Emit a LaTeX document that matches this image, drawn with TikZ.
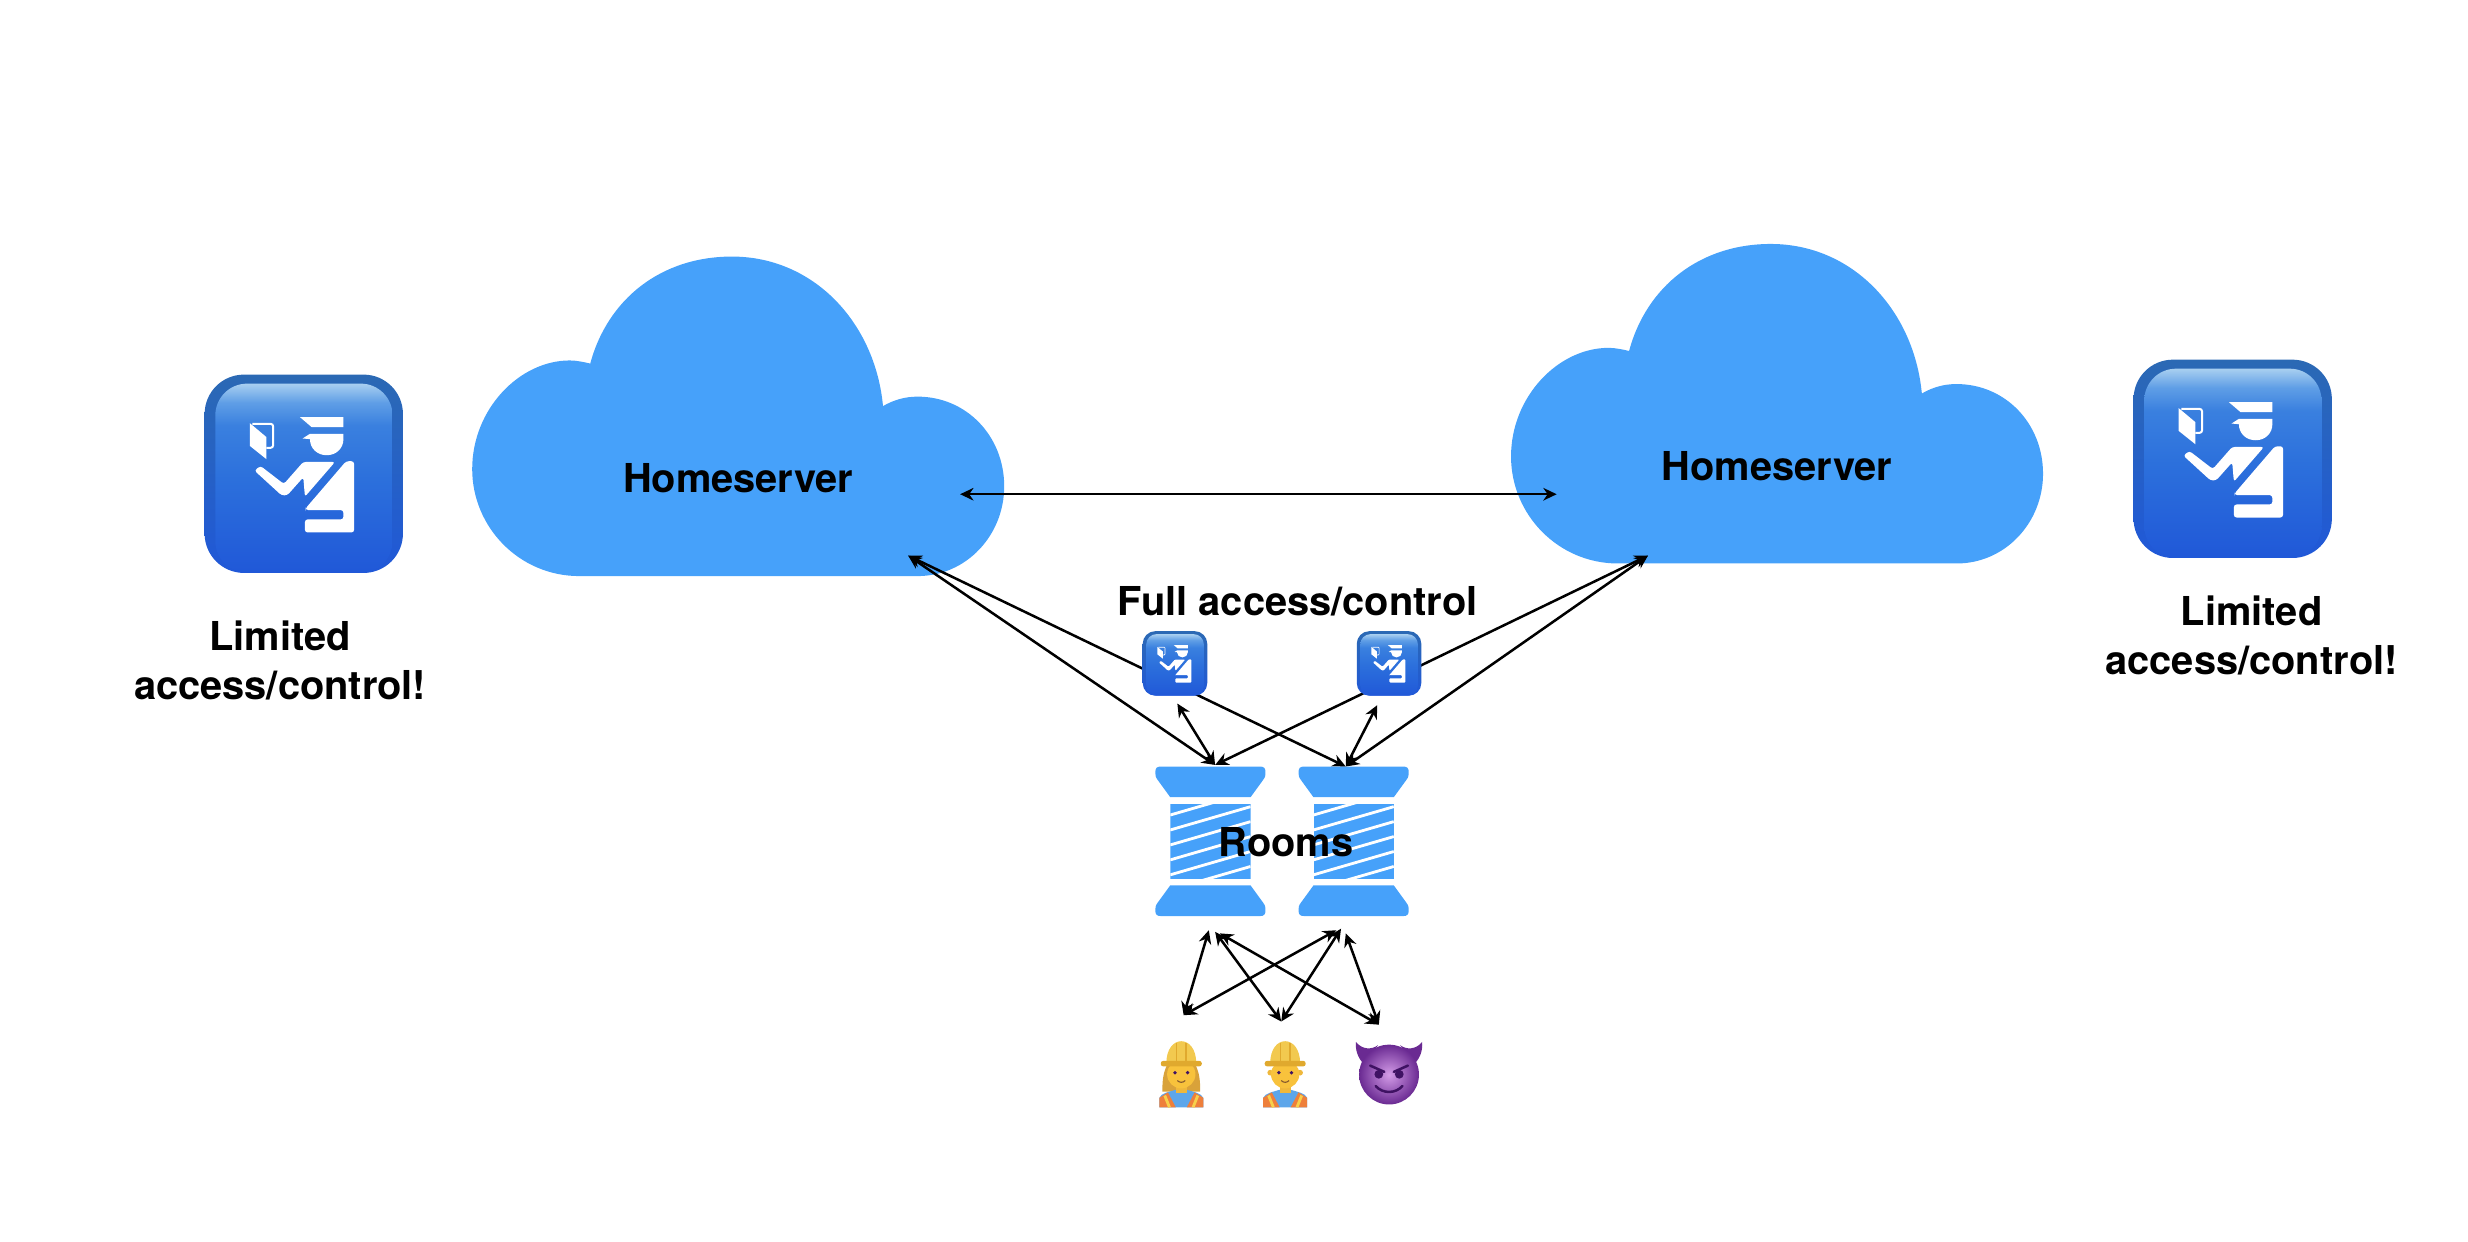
\documentclass[tikz,border=0pt]{standalone}
\usepackage{fontspec}
\setmainfont{TeX Gyre Heros}
\usepackage{tikz}
\usetikzlibrary{positioning,arrows.meta}

\definecolor{cloudblue}{HTML}{46A1FA}
\definecolor{copedge}{HTML}{2B69B4}
\definecolor{copdeep}{HTML}{2058D8}
\definecolor{copmid}{HTML}{2C70DC}
\definecolor{copupper}{HTML}{3A80DF}
\definecolor{coplight}{HTML}{5F9EE6}
\definecolor{coptop}{HTML}{A8CFF0}
\definecolor{hatyellow}{HTML}{F2C94F}
\definecolor{brimyellow}{HTML}{E0A92E}
\definecolor{skin}{HTML}{F8C23C}
\definecolor{hairgold}{HTML}{D9A23A}
\definecolor{shirtblue}{HTML}{5DA6EA}
\definecolor{vestorange}{HTML}{EE7F3B}
\definecolor{vestyellow}{HTML}{F7D04B}
\definecolor{devildark}{HTML}{6A2A92}
\definecolor{devillight}{HTML}{D49CE8}
\definecolor{devilink}{HTML}{3F1263}

\pgfdeclareverticalshading{copshade}{100bp}{%
  color(0bp)=(copdeep);
  color(25bp)=(copdeep);
  color(50bp)=(copmid);
  color(64bp)=(copupper);
  color(70bp)=(coplight);
  color(75bp)=(coptop);
  color(100bp)=(coptop)}

% Passport control glyph, in a box of 593 units
\newcommand{\copglyph}[1]{%
  \pgfmathsetlengthmacro{\copinner}{#1*95}%
  \pgfmathsetlengthmacro{\copround}{#1*8}%
  \pgfmathsetlengthmacro{\copline}{#1*6}%
  \pgfmathsetlengthmacro{\copxoff}{-521.5*#1}%
  \pgfmathsetlengthmacro{\copyoff}{401.5*#1}%
  \begin{scope}[xshift=\copxoff, yshift=\copyoff, x=#1, y=-#1]
    \shade[shading=copshade, rounded corners=\copinner] (257,132) rectangle (787,698);
    \fill[white] (360,250) -- (410,292) -- (410,358) -- (360,318) -- cycle;
    \draw[white, line width=\copline, rounded corners=\copround]
      (368,252) -- (430,252) -- (430,324) -- (410,324);
    \fill[white] (510,232) -- (640,232) -- (640,262) -- (545,262) -- cycle;
    \fill[white] (518,296) -- (540,282) -- (640,282) -- (640,298) -- (540,298) -- cycle;
    \fill[white] (540,298) .. controls (540,326) and (562,346) .. (590,346)
      .. controls (618,346) and (640,326) .. (640,298) -- cycle;
    \fill[white, rounded corners=\copround] (374,392) -- (392,378) -- (462,432)
      -- (520,366) -- (615,366) -- (525,470) -- (520,412) -- (472,466) -- (455,466) -- cycle;
    \fill[white, rounded corners=\copround] (527,505) -- (648,364) -- (672,364)
      -- (672,577) -- (525,577) -- (525,538) -- (640,538) -- (640,510) -- (527,510) -- cycle;
  \end{scope}
}

\tikzset{%
  copmark/.pic={\copglyph{#1}},
  homecloud/.pic={
    \fill[cloudblue] (368,366) .. controls (330,366) and (300,335) .. (300,298)
      .. controls (300,260) and (330,229) .. (362,229)
      .. controls (366,229) and (371,230) .. (375,231)
      .. controls (386,190) and (420,163) .. (465,163)
      .. controls (517,163) and (556,205) .. (561,258)
      .. controls (568,254) and (575,252) .. (583,252)
      .. controls (614,252) and (638,277) .. (638,309)
      .. controls (638,340) and (614,366) .. (583,366) -- cycle;
  },
  threadspool/.pic={
    \foreach \side in {-1,1} {
      \begin{scope}[yscale=\side]
        \fill[cloudblue] (-25.5,-28) -- (-33.5,-39)
          .. controls (-35,-41) and (-35,-42) .. (-35,-44)
          .. controls (-35,-46.5) and (-34,-47.5) .. (-31.5,-47.5)
          -- (31.5,-47.5)
          .. controls (34,-47.5) and (35,-46.5) .. (35,-44)
          .. controls (35,-42) and (35,-41) .. (33.5,-39)
          -- (25.5,-28) -- cycle;
      \end{scope}
    }
    \begin{scope}
      \clip (-25.5,-24) rectangle (25.5,24);
      \fill[cloudblue] (-25.5,-24) rectangle (25.5,24);
      \foreach \s in {-26,-16.7,-7.2,2.3,11.8,21.3,30.8,40.3}
        \draw[white, line width=1.8pt] (-25.5,\s) -- (25.5,\s-14.8);
    \end{scope}
  },
  workerbody/.pic={
    \fill[shirtblue] (-14,21) -- (-14,15) .. controls (-13,12) and (-7,11) .. (-4,10)
      -- (4,10) .. controls (7,11) and (13,12) .. (14,15) -- (14,21) -- cycle;
    \foreach \side in {-1,1} {
      \begin{scope}[xscale=\side]
        \fill[vestorange] (-14,21) -- (-14,15) -- (-8.5,11.5) -- (-3.5,21) -- cycle;
        \draw[vestyellow, line width=1.8pt] (-10.5,13.5) -- (-7.5,21);
      \end{scope}
    }
    \fill[skin!85!brown] (-3.5,5) rectangle (3.5,12);
    \fill[skin] (0,0) circle[radius=9];
    \fill[hatyellow] (-9.5,-7) .. controls (-9.5,-16) and (-5,-21) .. (0,-21)
      .. controls (5,-21) and (9.5,-16) .. (9.5,-7) -- cycle;
    \draw[brimyellow, line width=0.8pt] (-3,-8) -- (-3,-20) (3,-8) -- (3,-20);
    \fill[brimyellow, rounded corners=1.5pt] (-13,-8.5) rectangle (13,-5);
    \fill[devilink] (-4,-1) circle[radius=1.2] (4,-1) circle[radius=1.2];
    \draw[brown!70!black, line width=0.7pt] (-2.5,4) .. controls (-1,5.5) and (1,5.5) .. (2.5,4);
  },
  workerwoman/.pic={
    \fill[hairgold] (-9,-6) .. controls (-12,0) and (-12,6) .. (-12,11)
      -- (12,11) .. controls (12,6) and (12,0) .. (9,-6) -- cycle;
    \pic {workerbody};
  },
  workerman/.pic={
    \fill[skin!85!brown] (-9.5,-1) circle[radius=1.8] (9.5,-1) circle[radius=1.8];
    \pic {workerbody};
  },
  devilface/.pic={
    \foreach \side in {-1,1} {
      \begin{scope}[xscale=\side]
        \fill[devildark] (-21,-20) .. controls (-17,-15) and (-11,-15) .. (-7,-18)
          -- (-16,-6) .. controls (-20,-10) and (-21.5,-15) .. cycle;
      \end{scope}
    }
    \shade[inner color=devillight, outer color=devildark] (0,0.7) circle[radius=19];
    \foreach \side in {-1,1} {
      \begin{scope}[xscale=\side]
        \draw[devilink, line width=1.6pt, line cap=round] (-12,-5) -- (-3,-1);
        \fill[devilink] (-6.5,0.5) circle[radius=2.8];
      \end{scope}
    }
    \draw[devilink, line width=1.6pt, line cap=round] (-8.5,8) .. controls (-4,13) and (4,13) .. (8.5,8);
  }
}

\begin{document}
\begin{tikzpicture}[%
    x=1pt,
    y=-1pt,
    >={Stealth[length=8.5pt,width=8pt]},
    line width=1.6pt,
    label/.style={%
      font=\fontsize{25.3}{31}\selectfont\bfseries,
      align=center,
      inner sep=0pt
    },
    copicon/.style={%
      rectangle,
      inner sep=0pt,
      top color=copedge,
      bottom color=copdeep
    },
    copbig/.style={%
      copicon,
      minimum size=126pt,
      rounded corners=25pt
    },
    copsmall/.style={%
      copicon,
      minimum size=41pt,
      rounded corners=8pt
    }
  ]
  \useasboundingbox (0,0) rectangle (1568,789);
  % Clouds:
    \pic at (0,0)    {homecloud};
    \pic at (660,-8) {homecloud};
  % End points:
    \coordinate (cloudL)   at (610,314);
    \coordinate (cloudR)   at (989,314);
    \coordinate (cloudLb)  at (577,353);
    \coordinate (cloudRb)  at (1047,353);
    \coordinate (spoolLt)  at (772,486);
    \coordinate (spoolRt)  at (855,487);
    \coordinate (copLb)    at (748,447);
    \coordinate (copRb)    at (875,448);
    \coordinate (spoolLa)  at (768,591);
    \coordinate (spoolLb)  at (772,592);
    \coordinate (spoolLc)  at (775,593);
    \coordinate (spoolRa)  at (849,591);
    \coordinate (spoolRb)  at (852,590);
    \coordinate (spoolRc)  at (855,593);
    \coordinate (womanT)   at (752,645);
    \coordinate (manT)     at (814,649);
    \coordinate (devilT)   at (876,651);
  % Paths:
    \path[<->]
          (cloudL)  edge (cloudR)
          (cloudLb) edge (spoolLt)
          (cloudLb) edge (spoolRt)
          (cloudRb) edge (spoolLt)
          (cloudRb) edge (spoolRt)
          (copLb)   edge (spoolLt)
          (copRb)   edge (spoolRt)
          (spoolLa) edge (womanT)
          (spoolLb) edge (manT)
          (spoolLc) edge (devilT)
          (spoolRa) edge (womanT)
          (spoolRb) edge (manT)
          (spoolRc) edge (devilT);
  % Spools, people:
    \pic at (769,534.5)   {threadspool};
    \pic at (860,534.5)   {threadspool};
    \pic at (750.5,682.5) {workerwoman};
    \pic at (816.5,682.5) {workerman};
    \pic at (882.5,682)   {devilface};
  % Nodes:
    \node[copbig]   (copL)  at (193,301)     {};
    \node[copbig]   (copR)  at (1418.5,291.5) {};
    \node[copsmall] (copM)  at (746.5,421.5) {};
    \node[copsmall] (copN)  at (882.5,421.5) {};
    \pic at (copL) {copmark=0.2125pt};
    \pic at (copR) {copmark=0.2125pt};
    \pic at (copM) {copmark=0.0691pt};
    \pic at (copN) {copmark=0.0691pt};
    \node[label] (homeL) at (469,304)    {Homeserver};
    \node[label] (homeR) at (1129,296)   {Homeserver};
    \node[label] (full)  at (824.5,382)  {Full access/control};
    \node[label] (rooms) at (817,535)    {Rooms};
    \node[label] (limL)  at (178,419.5)  {Limited\\access/control!};
    \node[label] (limR)  at (1430.5,403.5) {Limited\\access/control!};
\end{tikzpicture}
\end{document}
